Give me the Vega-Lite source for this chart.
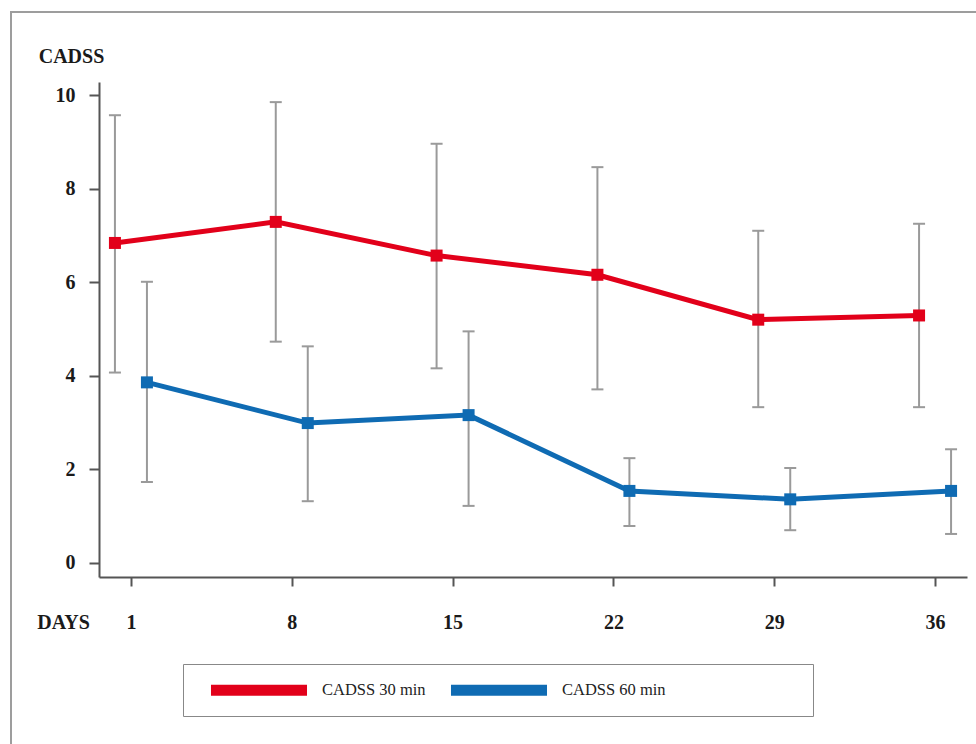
{
  "$schema": "https://vega.github.io/schema/vega-lite/v6.json",
  "width": 971,
  "height": 740,
  "autosize": {"type": "none"},
  "padding": {"left": 11, "top": 12, "right": -6, "bottom": -8},
  "background": "white",
  "config": {
    "view": {"stroke": "#9d9d9d", "strokeWidth": 2},
    "axis": {
      "labelFont": "Liberation Serif", "labelFontWeight": "bold", "labelFontSize": 20, "labelColor": "#1a1a1a",
      "titleFont": "Liberation Serif", "titleFontWeight": "bold", "titleFontSize": 20, "titleColor": "#1a1a1a",
      "domainColor": "#555555", "domainWidth": 2, "tickColor": "#555555", "tickWidth": 2, "grid": false
    }
  },
  "data": {"values": [
    {"day": 1, "series": "CADSS 30 min", "mean": 6.84, "lo": 4.07, "hi": 9.57},
    {"day": 8, "series": "CADSS 30 min", "mean": 7.29, "lo": 4.73, "hi": 9.85},
    {"day": 15, "series": "CADSS 30 min", "mean": 6.57, "lo": 4.16, "hi": 8.96},
    {"day": 22, "series": "CADSS 30 min", "mean": 6.16, "lo": 3.71, "hi": 8.46},
    {"day": 29, "series": "CADSS 30 min", "mean": 5.20, "lo": 3.33, "hi": 7.10},
    {"day": 36, "series": "CADSS 30 min", "mean": 5.29, "lo": 3.33, "hi": 7.25},
    {"day": 1, "series": "CADSS 60 min", "mean": 3.86, "lo": 1.73, "hi": 6.01},
    {"day": 8, "series": "CADSS 60 min", "mean": 2.99, "lo": 1.32, "hi": 4.63},
    {"day": 15, "series": "CADSS 60 min", "mean": 3.16, "lo": 1.22, "hi": 4.95},
    {"day": 22, "series": "CADSS 60 min", "mean": 1.54, "lo": 0.79, "hi": 2.24},
    {"day": 29, "series": "CADSS 60 min", "mean": 1.36, "lo": 0.70, "hi": 2.03},
    {"day": 36, "series": "CADSS 60 min", "mean": 1.54, "lo": 0.62, "hi": 2.43}
  ]},
  "encoding": {
    "x": {
      "field": "day", "type": "quantitative",
      "scale": {"domain": [-0.39, 37.39], "range": [88, 956], "nice": false, "zero": false},
      "axis": {
        "values": [1, 8, 15, 22, 29, 36], "title": "DAYS", "offset": -175, "tickSize": 9,
        "labelPadding": 42, "labelBaseline": "alphabetic", "labelFlush": false,
        "titleX": 52, "titleY": 51, "titleAlign": "center", "titleBaseline": "alphabetic"
      }
    },
    "y": {
      "field": "mean", "type": "quantitative",
      "scale": {"domain": [-0.3, 10.28], "range": [565, 70], "nice": false, "zero": false},
      "axis": {
        "values": [0, 2, 4, 6, 8, 10], "title": "CADSS", "offset": -88, "tickSize": 10,
        "labelPadding": 14, "titleAngle": 0, "titleX": -28, "titleY": 50,
        "titleAlign": "center", "titleBaseline": "alphabetic"
      }
    }
  },
  "layer": [
    {
      "transform": [{"filter": "datum.series === 'CADSS 30 min'"}],
      "mark": {"type": "rule", "xOffset": -16, "color": "#9a9a9a", "strokeWidth": 2},
      "encoding": {
        "y": {"field": "lo", "type": "quantitative", "scale": {"domain": [-0.3, 10.28], "range": [565, 70], "nice": false, "zero": false}},
        "y2": {"field": "hi"}
      }
    },
    {
      "transform": [{"filter": "datum.series === 'CADSS 30 min'"}],
      "mark": {"type": "tick", "orient": "horizontal", "xOffset": -16, "color": "#9a9a9a", "size": 12, "thickness": 2, "opacity": 1},
      "encoding": {"y": {"field": "hi", "type": "quantitative", "scale": {"domain": [-0.3, 10.28], "range": [565, 70], "nice": false, "zero": false}}}
    },
    {
      "transform": [{"filter": "datum.series === 'CADSS 30 min'"}],
      "mark": {"type": "tick", "orient": "horizontal", "xOffset": -16, "color": "#9a9a9a", "size": 12, "thickness": 2, "opacity": 1},
      "encoding": {"y": {"field": "lo", "type": "quantitative", "scale": {"domain": [-0.3, 10.28], "range": [565, 70], "nice": false, "zero": false}}}
    },
    {
      "transform": [{"filter": "datum.series === 'CADSS 60 min'"}],
      "mark": {"type": "rule", "xOffset": 16, "color": "#9a9a9a", "strokeWidth": 2},
      "encoding": {
        "y": {"field": "lo", "type": "quantitative", "scale": {"domain": [-0.3, 10.28], "range": [565, 70], "nice": false, "zero": false}},
        "y2": {"field": "hi"}
      }
    },
    {
      "transform": [{"filter": "datum.series === 'CADSS 60 min'"}],
      "mark": {"type": "tick", "orient": "horizontal", "xOffset": 16, "color": "#9a9a9a", "size": 12, "thickness": 2, "opacity": 1},
      "encoding": {"y": {"field": "hi", "type": "quantitative", "scale": {"domain": [-0.3, 10.28], "range": [565, 70], "nice": false, "zero": false}}}
    },
    {
      "transform": [{"filter": "datum.series === 'CADSS 60 min'"}],
      "mark": {"type": "tick", "orient": "horizontal", "xOffset": 16, "color": "#9a9a9a", "size": 12, "thickness": 2, "opacity": 1},
      "encoding": {"y": {"field": "lo", "type": "quantitative", "scale": {"domain": [-0.3, 10.28], "range": [565, 70], "nice": false, "zero": false}}}
    },
    {
      "transform": [{"filter": "datum.series === 'CADSS 30 min'"}],
      "mark": {"type": "line", "xOffset": -16, "strokeWidth": 5},
      "encoding": {
        "color": {
          "field": "series", "type": "nominal",
          "scale": {"domain": ["CADSS 30 min", "CADSS 60 min"], "range": ["#e2001a", "#0f6bb3"]},
          "legend": {
            "orient": "none", "legendX": 172, "legendY": 652, "direction": "horizontal", "columns": 2,
            "title": " ", "titleOrient": "right", "titlePadding": 144, "titleFontSize": 2,
            "padding": 3.5, "strokeColor": "#888888",
            "symbolType": "M-2.824,0H2.824", "symbolSize": 1156, "symbolStrokeWidth": 11, "symbolOffset": 50,
            "labelOffset": 40.5, "labelFont": "Liberation Serif", "labelFontSize": 16.5, "labelColor": "#222222",
            "columnPadding": -1
          }
        }
      }
    },
    {
      "transform": [{"filter": "datum.series === 'CADSS 60 min'"}],
      "mark": {"type": "line", "xOffset": 16, "strokeWidth": 5},
      "encoding": {
        "color": {"field": "series", "type": "nominal", "scale": {"domain": ["CADSS 30 min", "CADSS 60 min"], "range": ["#e2001a", "#0f6bb3"]}}
      }
    },
    {
      "transform": [{"filter": "datum.series === 'CADSS 30 min'"}],
      "mark": {"type": "square", "xOffset": -16, "size": 144, "opacity": 1},
      "encoding": {
        "fill": {"field": "series", "type": "nominal", "scale": {"domain": ["CADSS 30 min", "CADSS 60 min"], "range": ["#e2001a", "#0f6bb3"]}, "legend": null}
      }
    },
    {
      "transform": [{"filter": "datum.series === 'CADSS 60 min'"}],
      "mark": {"type": "square", "xOffset": 16, "size": 144, "opacity": 1},
      "encoding": {
        "fill": {"field": "series", "type": "nominal", "scale": {"domain": ["CADSS 30 min", "CADSS 60 min"], "range": ["#e2001a", "#0f6bb3"]}, "legend": null}
      }
    }
  ]
}
